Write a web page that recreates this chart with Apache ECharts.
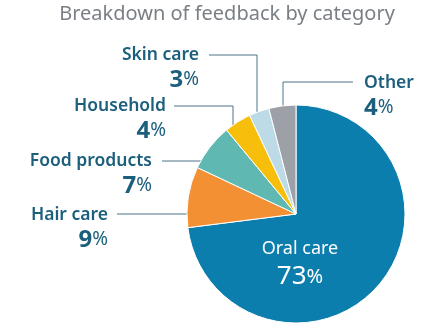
<!DOCTYPE html>
<html>
<head>
<meta charset="utf-8">
<script src="https://cdn.jsdelivr.net/npm/echarts@6/dist/echarts.min.js"></script>
<style>
html,body{margin:0;padding:0;background:#fff;}
#chart{width:435px;height:330px;}
</style>
</head>
<body>
<div id="chart"></div>
<script>
const categories = ['Oral care', 'Hair care', 'Food products', 'Household', 'Skin care', 'Other'];
const values = [73, 9, 7, 4, 3, 4];
const colors = ['#0b7eae', '#f39033', '#5fb8b2', '#f8be0c', '#bddbe6', '#9ea0a7'];

// label placement (layout only)
const labelPlaces = [
  {x: 300, y: 236, align: 'center'},
  {x: 108, y: 203, align: 'right', line: [[203,214],[160,214],[117,214]]},
  {x: 152, y: 149, align: 'right', line: [[217,161],[190,161],[162,161]]},
  {x: 166, y: 94, align: 'right', line: [[233,133],[233,106],[174,106]]},
  {x: 199, y: 43, align: 'right', line: [[257,117],[257,55],[209,55]]},
  {x: 364, y: 71, align: 'left', line: [[283,117],[283,82],[353,82]]}
];

const FONT = '"Noto Sans", sans-serif';
const textColor = '#1c5f7d';

const chart = echarts.init(document.getElementById('chart'), null, {renderer: 'canvas'});
const data = categories.map((c, i) => {
  const item = {name: c, value: values[i], itemStyle: {color: colors[i]}};
  if (i === 0) {
    item.label = {
      formatter: '{on|{b}}\n{ov|{c}}{op|%}',
      rich: {
        on: {fontFamily: FONT, fontSize: 18, fontWeight: 'normal', color: '#fff', lineHeight: 26, align: 'center'},
        ov: {fontFamily: FONT, fontSize: 26, fontWeight: 'normal', color: '#fff', lineHeight: 30},
        op: {fontFamily: FONT, fontSize: 20, fontWeight: 'normal', color: '#fff', lineHeight: 30}
      }
    };
    item.labelLine = {show: false};
  }
  return item;
});

chart.setOption({
  animation: false,
  title: {
    text: 'Breakdown of feedback by category',
    left: 222,
    textAlign: 'center',
    top: -1,
    textStyle: {fontFamily: FONT, fontSize: 20, fontWeight: 'normal', color: '#7a7f86'}
  },
  series: [{
    type: 'pie',
    center: [296, 214],
    radius: [0, 109],
    startAngle: 90,
    clockwise: true,
    avoidLabelOverlap: false,
    itemStyle: {borderColor: '#fff', borderWidth: 1},
    label: {
      show: true,
      formatter: '{n|{b}}\n{v|{c}}{p|%}',
      rich: {
        n: {fontFamily: FONT, fontSize: 17.5, fontWeight: 600, color: textColor, lineHeight: 24},
        v: {fontFamily: FONT, fontSize: 24, fontWeight: 'bold', color: textColor, lineHeight: 26},
        p: {fontFamily: FONT, fontSize: 19, color: textColor, lineHeight: 26}
      }
    },
    labelLine: {show: true, lineStyle: {color: '#4b7489', width: 1}},
    labelLayout: function (params) {
      const p = labelPlaces[params.dataIndex];
      const r = {x: p.x, y: p.y, align: p.align, verticalAlign: 'top'};
      if (p.line) r.labelLinePoints = p.line;
      return r;
    },
    data: data
  }]
});
</script>
</body>
</html>
